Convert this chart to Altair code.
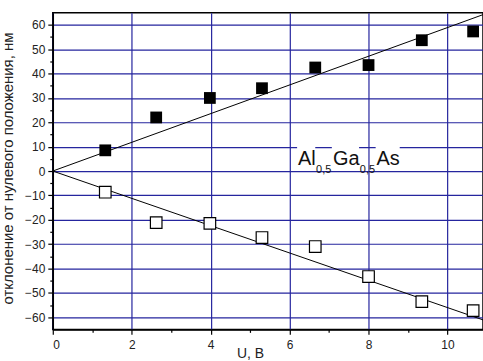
import altair as alt
import pandas as pd

# --- data ---
u_volts = [1.33, 2.62, 3.98, 5.30, 6.65, 8.00, 9.35, 10.65]
dev_pos = [8.5, 22.0, 30.0, 34.0, 42.5, 43.5, 53.7, 57.3]
dev_neg = [-8.7, -21.2, -21.5, -27.3, -31.0, -43.3, -53.6, -57.3]
fit_u = [0.0, 10.9]
fit_pos = [0.0, 64.2]
fit_neg = [0.0, -61.1]

x_major = [0, 2, 4, 6, 8, 10]
x_minor = [1, 3, 5, 7, 9]
y_major = [-60, -50, -40, -30, -20, -10, 0, 10, 20, 30, 40, 50, 60]
y_minor = [-55, -45, -35, -25, -15, -5, 5, 15, 25, 35, 45, 55]

label_parts = ["Al", "0,5", "Ga", "0,5", "As"]
label_is_sub = [False, True, False, True, False]
label_x = [6.21, 6.67, 7.10, 7.78, 8.20]
box_x1 = [6.19, 7.07, 8.18]
box_x2 = [6.65, 7.76, 8.79]

FONT = "Liberation Sans"
GRID = "#25259e"

pts = pd.DataFrame({"u": u_volts + u_volts,
                    "d": dev_pos + dev_neg,
                    "s": ["pos"] * len(u_volts) + ["neg"] * len(u_volts)})
fits = pd.DataFrame({"u": fit_u + fit_u, "d": fit_pos + fit_neg,
                     "s": ["pos"] * 2 + ["neg"] * 2})
lab = pd.DataFrame({"t": label_parts, "x": label_x, "sub": label_is_sub,
                    "y": [-0.65 if s else 2.33 for s in label_is_sub]})
boxes = pd.DataFrame({"x1": box_x1, "x2": box_x2, "y1": [4.0] * 3, "y2": [10.7] * 3})

xs = alt.Scale(domain=[0, 10.9], nice=False, zero=False)
ys = alt.Scale(domain=[-65, 65], nice=False, zero=False)

major_x = alt.Axis(values=x_major, grid=True, gridColor=GRID, gridWidth=1.2,
                   gridOpacity=1, domainColor="black", domainWidth=1.5,
                   tickColor="black", tickSize=5, tickWidth=1.2,
                   labelFont=FONT, labelFontSize=12, labelColor="#222",
                   labelPadding=5, title="U, В", titleFont=FONT,
                   titleFontSize=14, titleFontWeight="normal", titleColor="#222",
                   titleX=198, titleY=28, titleBaseline="alphabetic",
                   titleAnchor="middle", orient="bottom")
major_y = alt.Axis(values=y_major, grid=True, gridColor=GRID, gridWidth=1.2,
                   gridOpacity=1, domainColor="black", domainWidth=1.5,
                   tickColor="black", tickSize=5, tickWidth=1.2,
                   labelFont=FONT, labelFontSize=12, labelColor="#222",
                   labelPadding=3, title="отклонение от нулевого положения, нм",
                   titleFont=FONT, titleFontSize=15, titleFontWeight="normal",
                   titleColor="#222", titleX=-40, titleY=156,
                   titleBaseline="alphabetic", titleAngle=270, titleAlign="center",
                   orient="left")
minor_x = alt.Axis(values=x_minor, grid=False, labels=False, domain=False,
                   tickColor="black", tickSize=3, tickWidth=1.2, title="",
                   orient="bottom")
minor_y = alt.Axis(values=y_minor, grid=False, labels=False, domain=False,
                   tickColor="black", tickSize=3, tickWidth=1.2, title="",
                   orient="left")

lines = alt.Chart(fits).mark_line(color="black", strokeWidth=1).encode(
    x=alt.X("u:Q", scale=xs, axis=major_x),
    y=alt.Y("d:Q", scale=ys, axis=major_y),
    detail="s:N")

minor = alt.Chart(pts).mark_point(opacity=0).encode(
    x=alt.X("u:Q", scale=xs, axis=minor_x),
    y=alt.Y("d:Q", scale=ys, axis=minor_y))

filled = alt.Chart(pts).transform_filter(alt.datum.s == "pos").mark_square(
    size=140, color="black", opacity=1).encode(
    x=alt.X("u:Q", scale=xs, axis=None), y=alt.Y("d:Q", scale=ys, axis=None))

opened = alt.Chart(pts).transform_filter(alt.datum.s == "neg").mark_square(
    size=135, fill="white", stroke="black", strokeWidth=1.2, opacity=1,
    fillOpacity=1).encode(
    x=alt.X("u:Q", scale=xs, axis=None), y=alt.Y("d:Q", scale=ys, axis=None))

rects = alt.Chart(boxes).mark_rect(color="white").encode(
    x=alt.X("x1:Q", scale=xs, axis=None), x2="x2:Q",
    y=alt.Y("y1:Q", scale=ys, axis=None), y2="y2:Q")

main_txt = alt.Chart(lab).transform_filter(alt.datum.sub == False).mark_text(
    align="left", baseline="alphabetic", font=FONT, fontSize=20, color="#111").encode(
    x=alt.X("x:Q", scale=xs, axis=None), y=alt.Y("y:Q", scale=ys, axis=None), text="t:N")

sub_txt = alt.Chart(lab).transform_filter(alt.datum.sub == True).mark_text(
    align="left", baseline="alphabetic", font=FONT, fontSize=11, color="#111").encode(
    x=alt.X("x:Q", scale=xs, axis=None), y=alt.Y("y:Q", scale=ys, axis=None), text="t:N")

chart = alt.layer(lines, minor, rects, main_txt, sub_txt, opened, filled).resolve_axis(
    x="independent", y="independent").properties(
    width=432, height=318, padding={"left": 53, "top": 12, "right": 0, "bottom": 31},
    autosize=alt.AutoSizeParams(type="none"), background="white"
).configure_view(stroke="black", strokeWidth=1.5)

chart.save("out.html", embed_options={"renderer": "svg", "actions": False})
